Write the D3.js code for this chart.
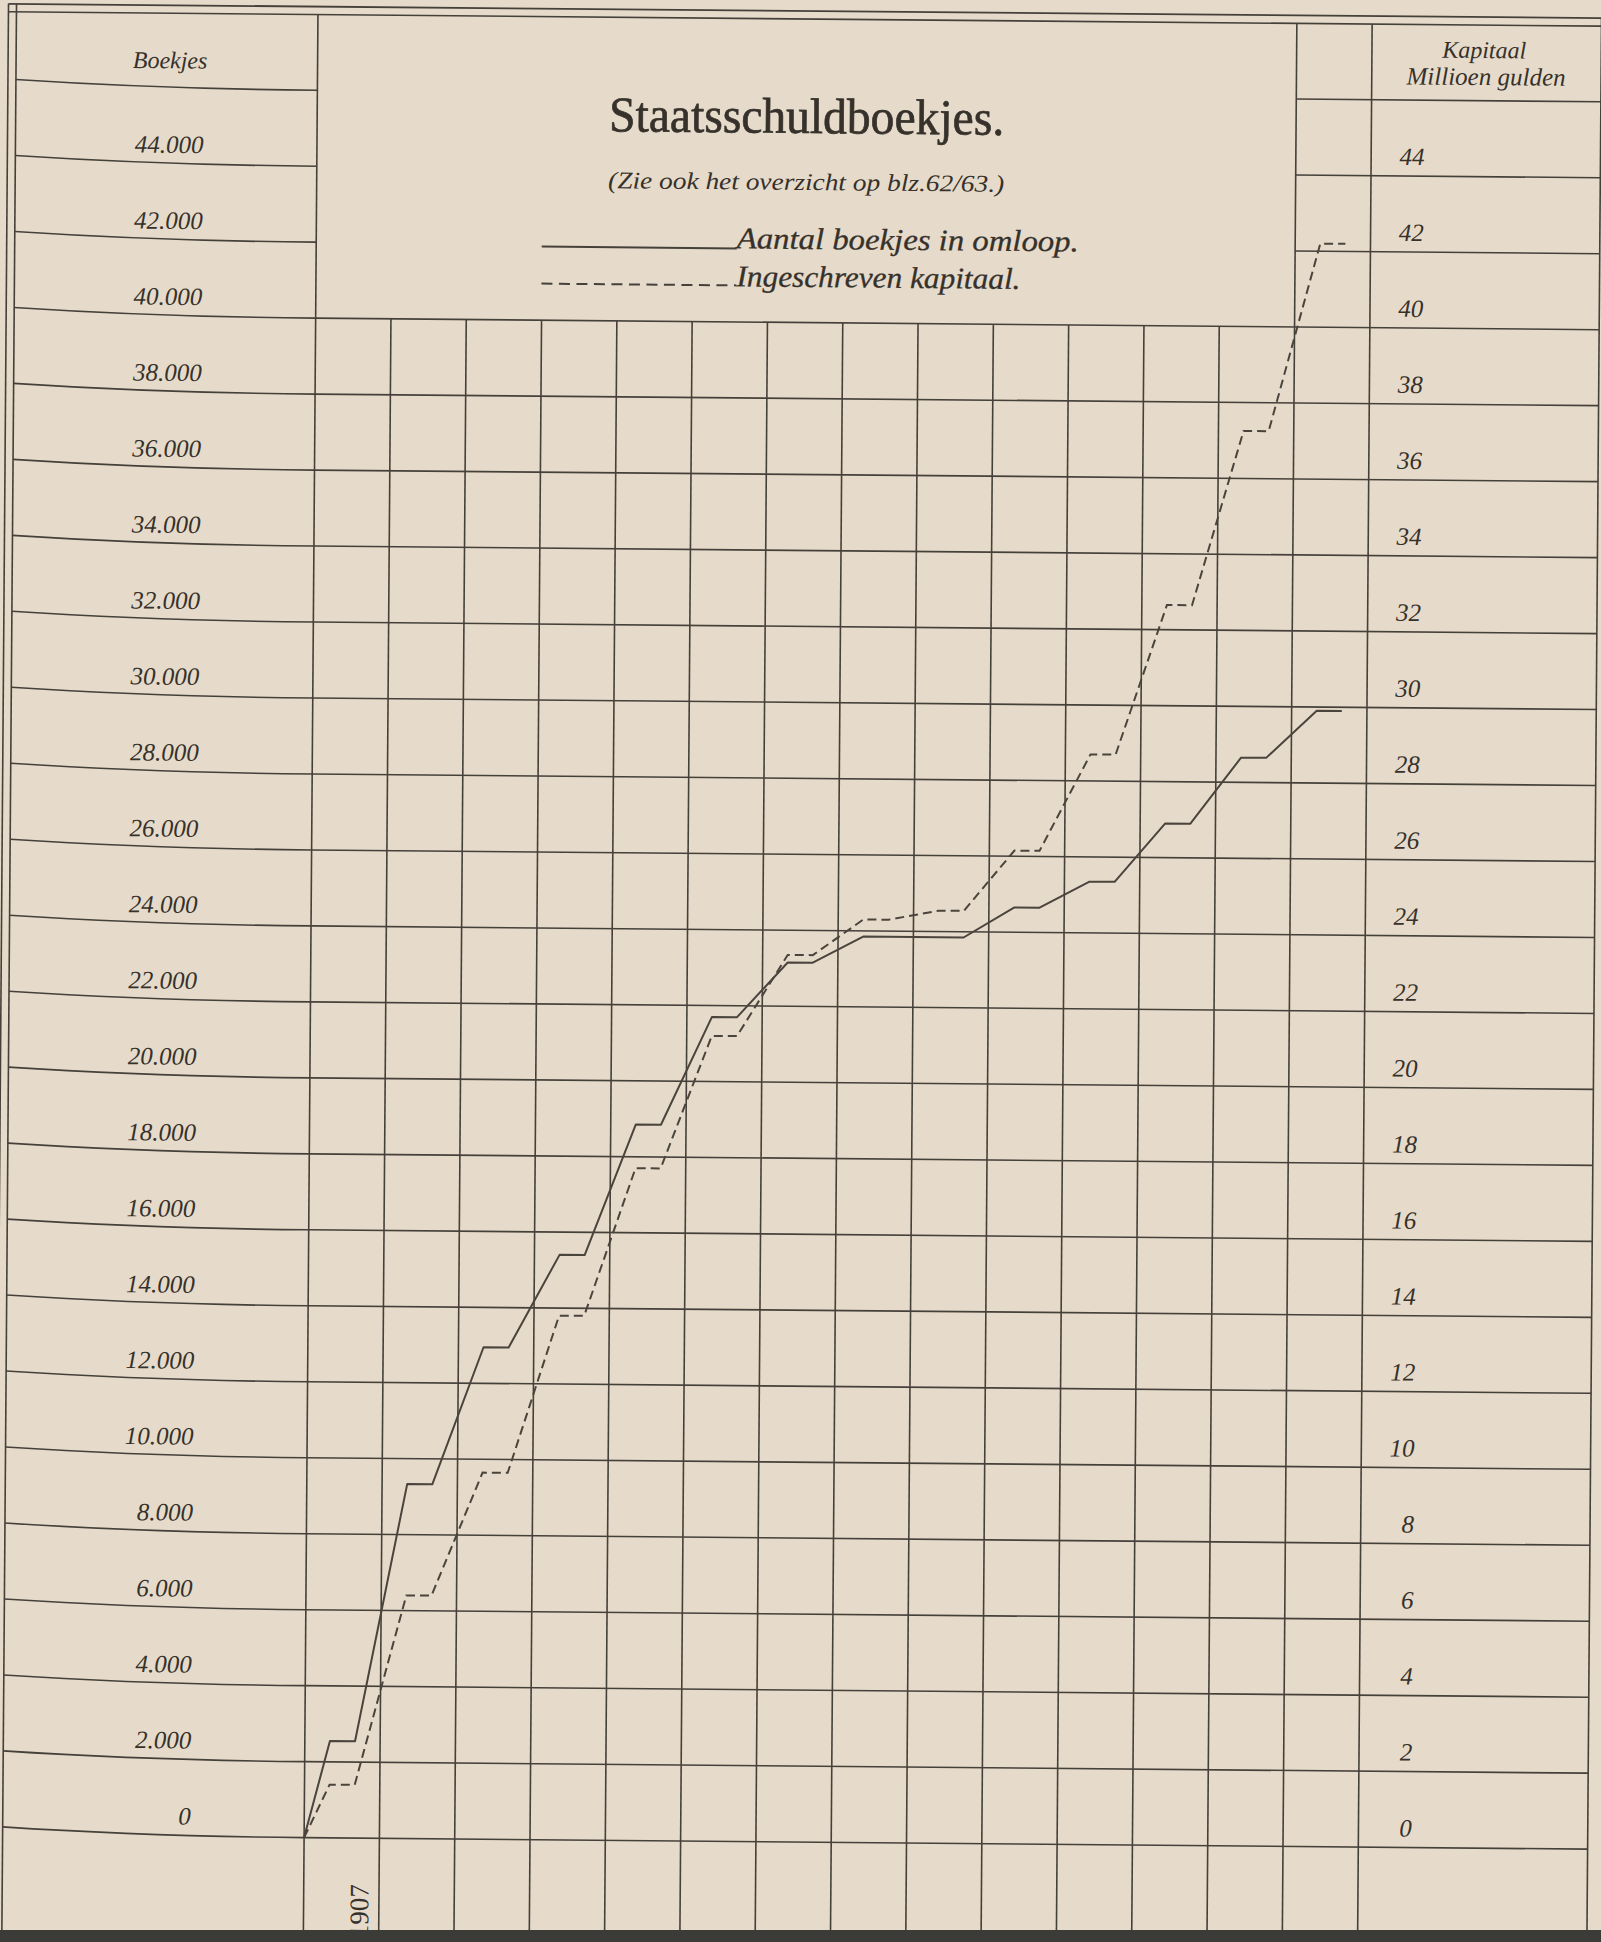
<!DOCTYPE html>
<html>
<head>
<meta charset="utf-8">
<title>Staatsschuldboekjes</title>
<script src="https://cdn.jsdelivr.net/npm/d3@7/dist/d3.min.js"></script>
<style>
  html, body { margin: 0; padding: 0; background: #e6dbca; }
  svg { display: block; }
  text { font-family: "Liberation Serif", "DejaVu Serif", serif; fill: #36312b; }
</style>
</head>
<body>
<div class="visualization"></div>
<script>
'use strict';

// data (one value per year)
var years    = [1907, 1908, 1909, 1910, 1911, 1912, 1913, 1914, 1915, 1916, 1917, 1918, 1919, 1920];
var boekjes  = [2550, 9330, 12950, 15400, 18850, 21700, 23150, 23850, 23850, 24650, 25350, 26900, 28650, 29900];
var kapitaal = [1.4, 6.4, 9.65, 13.8, 17.7, 21.2, 23.35, 24.3, 24.55, 26.15, 28.7, 32.65, 37.25, 42.2];

var boekjesTicks  = [0, 2000, 4000, 6000, 8000, 10000, 12000, 14000, 16000, 18000, 20000, 22000,
                     24000, 26000, 28000, 30000, 32000, 34000, 36000, 38000, 40000, 42000, 44000];
var kapitaalTicks = [0, 2, 4, 6, 8, 10, 12, 14, 16, 18, 20, 22, 24, 26, 28, 30, 32, 34, 36, 38, 40, 42, 44];

var title     = 'Staatsschuldboekjes.';
var subtitle  = '(Zie ook het overzicht op blz.62/63.)';
var legendSolid  = 'Aantal boekjes in omloop.';
var legendDashed = 'Ingeschreven kapitaal.';

var width = 1601, height = 1942;
var ink = '#45403a';
var paper = '#e6dbca';

var nl = d3.formatLocale({decimal: ',', thousands: '.', grouping: [3], currency: ['', '']});
var fmt = nl.format(',d');

var svg = d3.select('.visualization')
  .append('svg')
  .attr('width', width)
  .attr('height', height);

svg.append('rect')
  .attr('width', width)
  .attr('height', height)
  .attr('fill', paper);

// the scanned page is slightly skewed
var page = svg.append('g')
  .attr('transform', 'matrix(1,0.009,-0.0076,1,7.6,-7.2)');

var plotLeft = 310.5, plotRight = 1364.7;
var frameLeft = 9, frameRight = 1594, frameTop = 19, pageBottom = 1970;

var x = d3.scaleBand().domain(years).range([plotLeft, plotRight]);
var bw = x.bandwidth();
var yB = d3.scaleLinear().domain([0, 44000]).range([1842, 170.6]);
var yK = d3.scaleLinear().domain([0, 44]).range([1842, 170.6]);

var lastYear = years[years.length - 1];
var boxRight = x(lastYear);           // title box ends at last column
var gridTopLevel = 40000;

var grid = page.append('g')
  .attr('stroke', ink)
  .attr('stroke-width', 1.6)
  .attr('fill', 'none');

// frame
grid.append('line').attr('x1', 1).attr('x2', frameRight).attr('y1', 11).attr('y2', 11).attr('stroke-width', 1.8);
grid.append('line').attr('x1', 1).attr('x2', frameRight).attr('y1', frameTop).attr('y2', frameTop);
[1, frameLeft, frameRight].forEach(function(fx){
  grid.append('line').attr('x1', fx).attr('x2', fx).attr('y1', 11).attr('y2', pageBottom);
});

// horizontal rows, one level higher for the header row
var levels = boekjesTicks.concat([46000]);

levels.forEach(function(v){
  var yy = yB(v);
  // left label column, curved near the page edge
  grid.append('path')
    .attr('d', 'M' + frameLeft + ',' + (yy - 8) + 'Q150,' + yy + ' ' + plotLeft + ',' + yy);
  var startX = v <= gridTopLevel ? plotLeft : boxRight;
  grid.append('line')
    .attr('x1', startX).attr('x2', frameRight)
    .attr('y1', yy).attr('y2', yy);
});

// vertical column lines
years.forEach(function(yr, i){
  var top = (i === 0 || yr === lastYear) ? frameTop : yB(gridTopLevel);
  grid.append('line')
    .attr('x1', x(yr)).attr('x2', x(yr))
    .attr('y1', top).attr('y2', pageBottom);
});
grid.append('line')
  .attr('x1', plotRight).attr('x2', plotRight)
  .attr('y1', frameTop).attr('y2', pageBottom);

// left axis labels (right aligned)
page.append('g').selectAll('text')
  .data(boekjesTicks)
  .enter().append('text')
  .attr('x', 197)
  .attr('y', function(d){ return yB(d) - 12; })
  .attr('text-anchor', 'end')
  .attr('font-style', 'italic')
  .attr('font-size', 25)
  .text(function(d){ return fmt(d); });

// right axis labels
page.append('g').selectAll('text')
  .data(kapitaalTicks)
  .enter().append('text')
  .attr('x', 1418)
  .attr('y', function(d){ return yK(d) - 11; })
  .attr('text-anchor', 'end')
  .attr('font-style', 'italic')
  .attr('font-size', 25)
  .text(function(d){ return d; });

// column headers
page.append('text')
  .attr('x', 163).attr('y', 74)
  .attr('text-anchor', 'middle')
  .attr('font-style', 'italic')
  .attr('font-size', 24)
  .text('Boekjes');
page.append('text')
  .attr('x', 1477).attr('y', 52)
  .attr('text-anchor', 'middle')
  .attr('font-style', 'italic')
  .attr('font-size', 24)
  .text('Kapitaal');
page.append('text')
  .attr('x', 1479).attr('y', 79)
  .attr('text-anchor', 'middle')
  .attr('font-style', 'italic')
  .attr('font-size', 25)
  .text('Millioen gulden');

// title block
var cx = (plotLeft + boxRight) / 2;
page.append('text')
  .attr('x', cx).attr('y', 133)
  .attr('text-anchor', 'middle')
  .attr('font-size', 50)
  .attr('stroke', '#36312b')
  .attr('stroke-width', 0.7)
  .attr('textLength', 395)
  .attr('lengthAdjust', 'spacingAndGlyphs')
  .text(title);
page.append('text')
  .attr('x', cx).attr('y', 190)
  .attr('text-anchor', 'middle')
  .attr('font-style', 'italic')
  .attr('font-size', 24)
  .attr('textLength', 396)
  .attr('lengthAdjust', 'spacingAndGlyphs')
  .text(subtitle);

// legend
var legend = page.append('g');
legend.append('line')
  .attr('x1', 536).attr('x2', 731).attr('y1', 249).attr('y2', 249)
  .attr('stroke', ink).attr('stroke-width', 2);
legend.append('text')
  .attr('x', 731).attr('y', 249)
  .attr('font-style', 'italic')
  .attr('font-size', 30)
  .attr('stroke', '#36312b')
  .attr('stroke-width', 0.3)
  .attr('textLength', 342)
  .attr('lengthAdjust', 'spacingAndGlyphs')
  .text(legendSolid);
legend.append('line')
  .attr('x1', 536).attr('x2', 731).attr('y1', 286).attr('y2', 286)
  .attr('stroke', ink).attr('stroke-width', 2)
  .attr('stroke-dasharray', '11,6.5');
legend.append('text')
  .attr('x', 731).attr('y', 287)
  .attr('font-style', 'italic')
  .attr('font-size', 30)
  .attr('stroke', '#36312b')
  .attr('stroke-width', 0.3)
  .attr('textLength', 284)
  .attr('lengthAdjust', 'spacingAndGlyphs')
  .text(legendDashed);

// stepped series: rise during first third of the year, level for the middle third
var stepPoints = function(values, yScale){
  var pts = [[x(years[0]), yScale(0)]];
  values.forEach(function(v, i){
    pts.push([x(years[i]) + bw / 3, yScale(v)]);
    pts.push([x(years[i]) + 2 * bw / 3, yScale(v)]);
  });
  return pts;
};

var line = d3.line();

page.append('path')
  .attr('d', line(stepPoints(boekjes, yB)))
  .attr('fill', 'none')
  .attr('stroke', '#4a443d')
  .attr('stroke-width', 2)
  .attr('stroke-linejoin', 'round');

page.append('path')
  .attr('d', line(stepPoints(kapitaal, yK)))
  .attr('fill', 'none')
  .attr('stroke', '#4a443d')
  .attr('stroke-width', 2)
  .attr('stroke-dasharray', '9,5');

// first year label, printed vertically below the zero line
page.append('text')
  .attr('transform', 'translate(' + (x(years[0]) + bw * 0.86) + ',1888) rotate(-90)')
  .attr('text-anchor', 'end')
  .attr('font-size', 27)
  .text(years[0]);

// dark scanner edge along the bottom
svg.append('rect')
  .attr('x', 0).attr('y', 1930)
  .attr('width', width).attr('height', height - 1930)
  .attr('fill', '#3b3b38');
</script>
</body>
</html>
